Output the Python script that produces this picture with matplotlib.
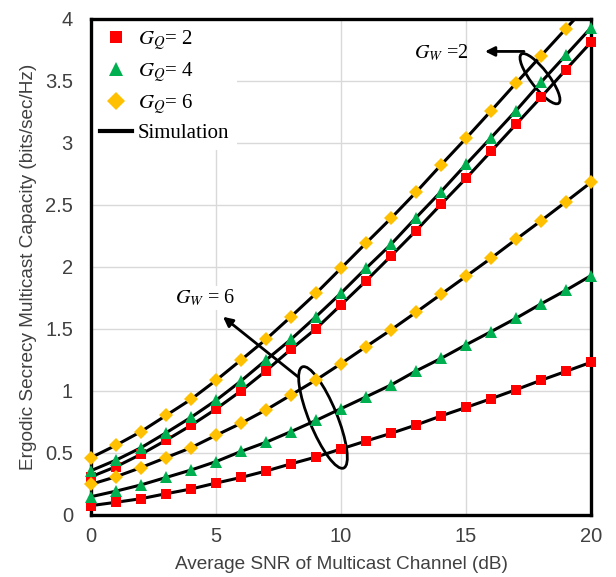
import numpy as np
import matplotlib
matplotlib.use('Agg')
import matplotlib.pyplot as plt
from matplotlib.lines import Line2D
from matplotlib.patches import Ellipse

## Data

snr_db = np.arange(0, 21)

# G_W = 6 (lower group)
w6_q2 = [0.073, 0.10, 0.129, 0.169, 0.207, 0.255, 0.30, 0.352, 0.41, 0.465, 0.53,
         0.594, 0.656, 0.723, 0.796, 0.865, 0.935, 1.008, 1.084, 1.156, 1.229]
w6_q4 = [0.145, 0.19, 0.24, 0.30, 0.36, 0.428, 0.51, 0.584, 0.67, 0.76, 0.855,
         0.95, 1.046, 1.159, 1.26, 1.37, 1.476, 1.584, 1.70, 1.81, 1.928]
w6_q6 = [0.245, 0.306, 0.38, 0.46, 0.54, 0.64, 0.737, 0.845, 0.965, 1.086, 1.218,
         1.355, 1.49, 1.632, 1.777, 1.922, 2.068, 2.22, 2.37, 2.524, 2.68]

# G_W = 2 (upper group)
w2_q2 = [0.306, 0.387, 0.487, 0.60, 0.72, 0.852, 0.998, 1.16, 1.334, 1.50, 1.692,
         1.885, 2.086, 2.29, 2.503, 2.712, 2.93, 3.148, 3.366, 3.59, 3.81]
w2_q4 = [0.355, 0.44, 0.54, 0.66, 0.785, 0.922, 1.078, 1.247, 1.414, 1.597, 1.787,
         1.987, 2.18, 2.395, 2.605, 2.825, 3.04, 3.258, 3.487, 3.707, 3.927]
w2_q6 = [0.46, 0.56, 0.67, 0.80, 0.93, 1.083, 1.247, 1.414, 1.597, 1.785, 1.987,
         2.19, 2.39, 2.60, 2.82, 3.035, 3.256, 3.48, 3.70, 3.92, 4.14]

q_labels = ['$G_Q$= 2', '$G_Q$= 4', '$G_Q$= 6']
q_colors = ['#FF0000', '#00B050', '#FFC000']
q_markers = ['s', '^', 'D']
q_sizes = [6.8, 8.5, 6.8]

x_ticks = [0, 5, 10, 15, 20]
y_ticks = [0, 0.5, 1, 1.5, 2, 2.5, 3, 3.5, 4]

## Figure

plt.rcParams['font.family'] = ['Liberation Sans', 'DejaVu Sans']
plt.rcParams['mathtext.fontset'] = 'stix'

fig = plt.figure(figsize=(6.16, 5.77), dpi=100)
ax = fig.add_axes([0.1477, 0.108, 0.8117, 0.8596])
ax.set_xlim(0, 20)
ax.set_ylim(0, 4)

groups = [(w2_q2, w2_q4, w2_q6), (w6_q2, w6_q4, w6_q6)]
for grp in groups:
    for vals in grp:
        ax.plot(snr_db, vals, color='black', lw=2.2, zorder=3)
    for i, vals in enumerate(grp):
        v = np.array(vals)
        keep = v <= 4  # points above the axis top are not shown
        ax.plot(snr_db[keep], v[keep], ls='none', marker=q_markers[i], ms=q_sizes[i],
                color=q_colors[i], markeredgewidth=0, zorder=7, clip_on=False)

ax.set_xticks(x_ticks)
ax.set_yticks(y_ticks)
ax.set_yticklabels(['0', '0.5', '1', '1.5', '2', '2.5', '3', '3.5', '4'])
ax.tick_params(length=0, labelsize=14.5, colors='#404040')
ax.tick_params(axis='y', pad=13)
ax.tick_params(axis='x', pad=9)
ax.grid(True, color='#D9D9D9', lw=1.0, zorder=0)
ax.set_axisbelow(True)
for s in ax.spines.values():
    s.set_linewidth(2.4)
    s.set_color('black')
    s.set_zorder(6)

ax.set_xlabel('Average SNR of Multicast Channel (dB)', fontsize=13.7, color='#404040', labelpad=7)
ax.set_ylabel('Ergodic Secrecy Multicast Capacity (bits/sec/Hz)', fontsize=13.7, color='#404040', labelpad=6)

# legend
handles = [Line2D([], [], ls='none', marker=q_markers[i], ms=q_sizes[i] + 2,
                  color=q_colors[i], markeredgewidth=0) for i in range(3)]
handles.append(Line2D([], [], color='black', lw=3))
labels = q_labels + ['Simulation']
leg = ax.legend(handles, labels, loc='upper left', bbox_to_anchor=(0.0, 1.0),
                frameon=True, fancybox=False, framealpha=1, edgecolor='none',
                facecolor='white', handlelength=1.5, handletextpad=0.3,
                labelspacing=0.38, borderpad=0.35, borderaxespad=0.1,
                prop={'family': 'Liberation Serif', 'size': 15})
leg.set_zorder(5)

# G_W annotations (axes fraction, axes is ~square)
ax.add_patch(Ellipse((0.898, 0.879), 0.124, 0.036, angle=-53, transform=ax.transAxes,
                     fill=False, ec='black', lw=2.0, zorder=5))
ax.add_patch(Ellipse((0.464, 0.196), 0.22, 0.056, angle=-68, transform=ax.transAxes,
                     fill=False, ec='black', lw=2.0, zorder=5))

ax.annotate('', xy=(0.788, 0.934), xycoords='axes fraction',
            xytext=(0.866, 0.934), textcoords='axes fraction',
            arrowprops=dict(arrowstyle='-|>', color='black', lw=2.0, mutation_scale=14,
                            shrinkA=0, shrinkB=0), zorder=5)
ax.annotate('', xy=(0.264, 0.399), xycoords='axes fraction',
            xytext=(0.414, 0.278), textcoords='axes fraction',
            arrowprops=dict(arrowstyle='-|>', color='black', lw=2.0, mutation_scale=14,
                            shrinkA=0, shrinkB=0), zorder=5)

ax.text(0.70, 0.931, '$G_W$ =2', transform=ax.transAxes, ha='center', va='center',
        fontsize=14.5, family='Liberation Serif', zorder=5)
ax.text(0.228, 0.437, '$G_W$ = 6', transform=ax.transAxes, ha='center', va='center',
        fontsize=14.5, family='Liberation Serif', zorder=5,
        bbox=dict(facecolor='white', edgecolor='none', pad=1))

fig.savefig('out.png', dpi=100)
